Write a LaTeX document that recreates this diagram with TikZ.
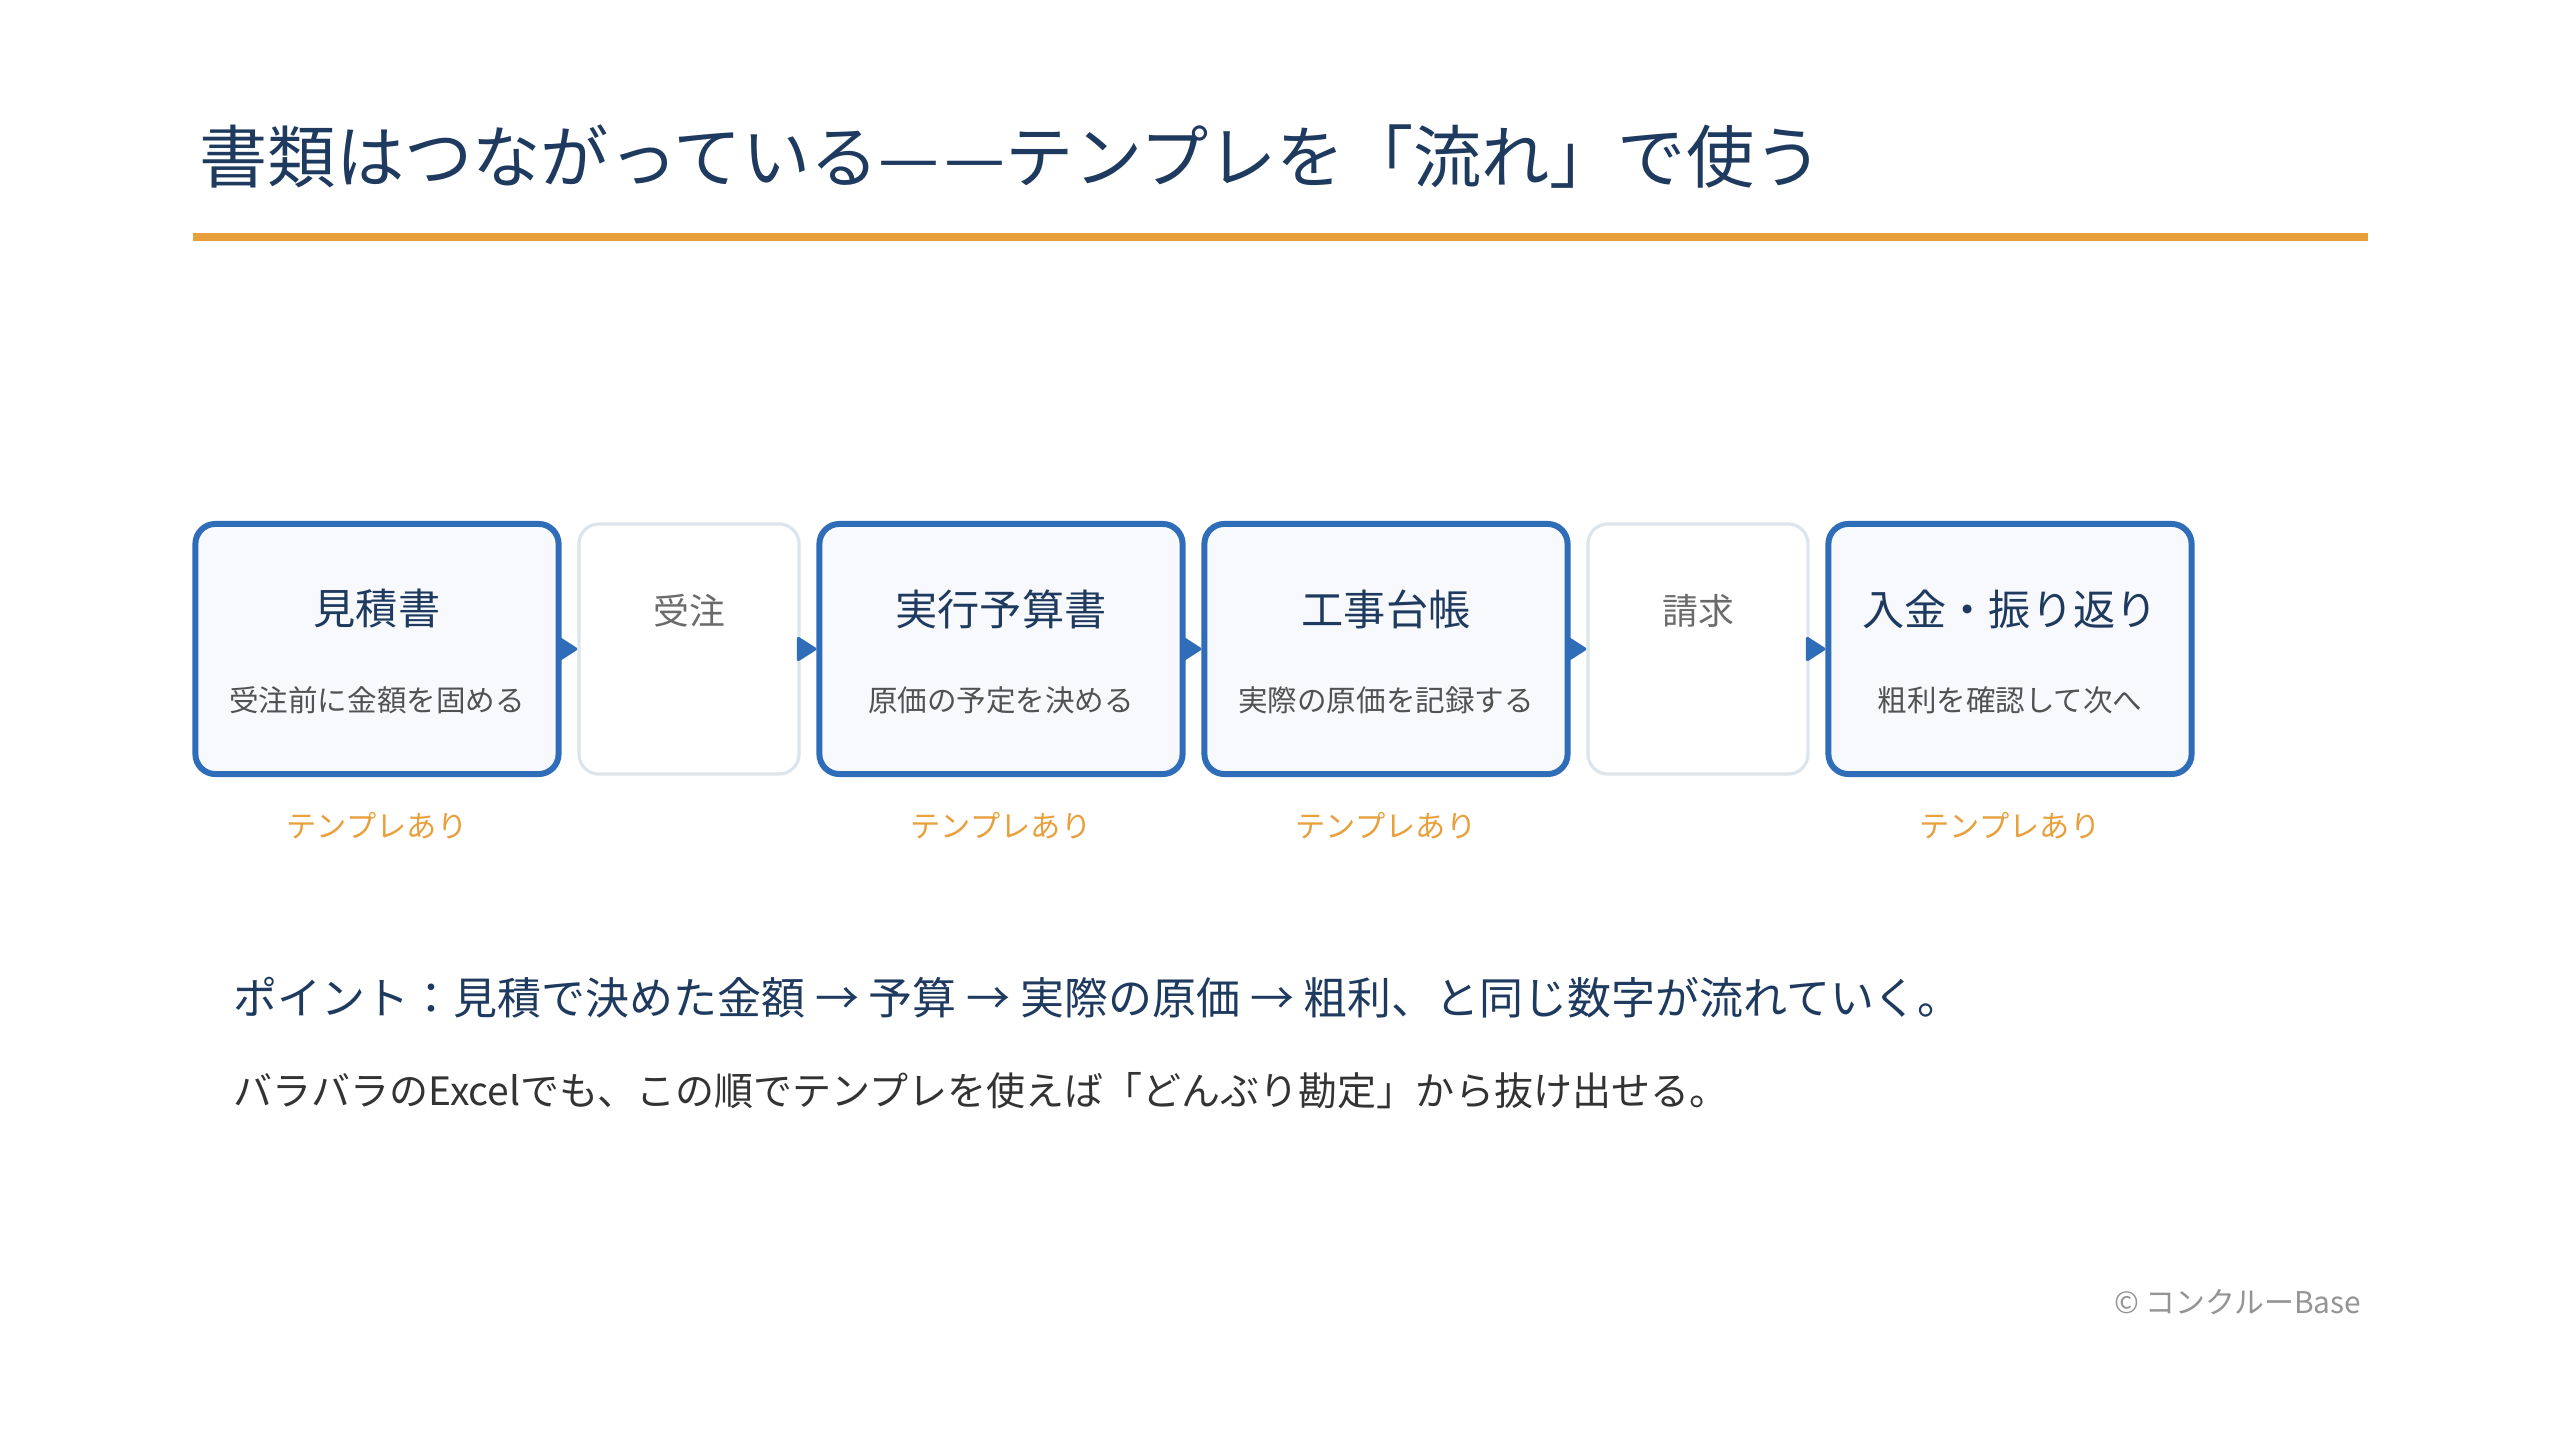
\documentclass[tikz,border=0pt]{standalone}
\usepackage{fontspec}
\setmainfont{Noto Sans CJK JP}
\usetikzlibrary{arrows.meta}
\definecolor{navy}{HTML}{1F3A5F}
\definecolor{accent}{HTML}{E8A03C}
\definecolor{flowblue}{HTML}{2F6DB8}
\definecolor{boxfill}{HTML}{F7F9FC}
\definecolor{paleline}{HTML}{DCE4EC}
\begin{document}
\begin{tikzpicture}[x=0.01cm,y=-0.01cm,
    docbox/.style={draw=flowblue,fill=boxfill,line width=1.7pt,rounded corners=0.2cm,
      minimum width=3.63cm,minimum height=2.5cm,inner sep=0pt},
    stagebox/.style={draw=paleline,fill=white,line width=0.9pt,rounded corners=0.2cm,
      minimum width=2.2cm,minimum height=2.5cm,inner sep=0pt},
    doctitle/.style={text=navy,font=\fontsize{12pt}{14pt}\selectfont},
    docnote/.style={text=black!68,font=\fontsize{8.4pt}{10pt}\selectfont},
    stagetitle/.style={text=black!58,font=\fontsize{10.2pt}{12pt}\selectfont},
    tmpl/.style={text=accent,font=\fontsize{8.6pt}{10pt}\selectfont},
    flow/.style={draw=flowblue,line width=0.9pt,-{Triangle[length=0.21cm,width=0.26cm,round]}}]
  \useasboundingbox[fill=white] (0,0) rectangle (2560,1440);
  % title and rule
  \node[anchor=west,inner sep=0pt,text=navy,font=\fontsize{19.4pt}{22pt}\selectfont] (title) at (199,157) {書類はつながっている—\kern0.08em—テンプレを「流れ」で使う};
  \fill[accent] (193,233) rectangle (2368,241);
  % flow boxes
  \node[docbox] (b1) at (377,649) {};
  \node[stagebox] (b2) at (689,649) {};
  \node[docbox] (b3) at (1001,649) {};
  \node[docbox] (b4) at (1386,649) {};
  \node[stagebox] (b5) at (1698,649) {};
  \node[docbox] (b6) at (2010,649) {};
  \node[doctitle] (t1) at (377,609) {見積書};
  \node[docnote] (n1) at (377,700) {受注前に金額を固める};
  \node[stagetitle] (t2) at (689,611) {受注};
  \node[doctitle] (t3) at (1001,609) {実行予算書};
  \node[docnote] (n3) at (1001,700) {原価の予定を決める};
  \node[doctitle] (t4) at (1386,609) {工事台帳};
  \node[docnote] (n4) at (1386,700) {実際の原価を記録する};
  \node[stagetitle] (t5) at (1698,611) {請求};
  \node[doctitle] (t6) at (2010,609) {入金・振り返り};
  \node[docnote] (n6) at (2010,700) {粗利を確認して次へ};
  % connectors
  \draw[flow] (b1.east) -- (b2.west);
  \draw[flow] (b2.east) -- (b3.west);
  \draw[flow] (b3.east) -- (b4.west);
  \draw[flow] (b4.east) -- (b5.west);
  \draw[flow] (b5.east) -- (b6.west);
  % template marks
  \node[tmpl] (m1) at (377,826) {テンプレあり};
  \node[tmpl] (m3) at (1001,826) {テンプレあり};
  \node[tmpl] (m4) at (1386,826) {テンプレあり};
  \node[tmpl] (m6) at (2010,826) {テンプレあり};
  % summary
  \node[anchor=west,inner sep=0pt,text=navy,font=\fontsize{12.5pt}{14pt}\selectfont] (point) at (233,998) {ポイント：見積で決めた金額 → 予算 → 実際の原価 → 粗利、と同じ数字が流れていく。};
  \node[anchor=west,inner sep=0pt,text=black!80,font=\fontsize{11.1pt}{13pt}\selectfont] (hint) at (233,1091) {バラバラのExcelでも、この順でテンプレを使えば「どんぶり勘定」から抜け出せる。};
  \node[anchor=east,inner sep=0pt,text=black!42,font=\fontsize{8.5pt}{10pt}\selectfont] (copy) at (2362,1302) {© コンクルーBase};
\end{tikzpicture}
\end{document}
